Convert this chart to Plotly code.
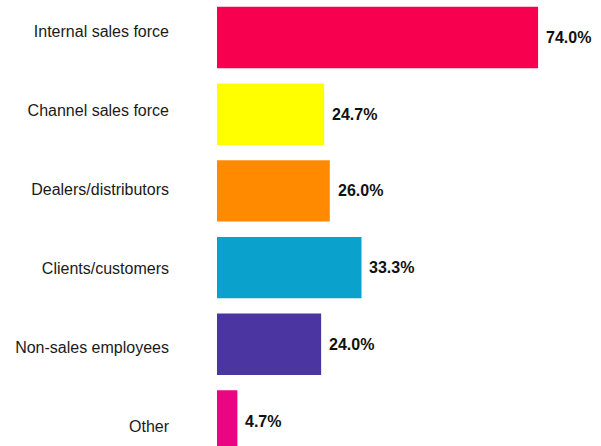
import plotly.graph_objects as go

# Survey responses: share of respondents per source
categories = [
    "Internal sales force",
    "Channel sales force",
    "Dealers/distributors",
    "Clients/customers",
    "Non-sales employees",
    "Other",
]
values = [74.0, 24.7, 26.0, 33.3, 24.0, 4.7]
bar_colors = ["#F7004F", "#FFFF00", "#FF8A00", "#0AA2CC", "#4B35A0", "#EA0583"]
value_labels = [f"{v:.1f}%" for v in values]

positions = list(range(len(categories)))

fig = go.Figure()

fig.add_trace(
    go.Bar(
        x=values,
        y=positions,
        orientation="h",
        marker=dict(color=bar_colors, line=dict(width=0)),
        width=0.8,
        hoverinfo="skip",
    )
)

# Invisible anchor trace so the category-label axis is laid out
fig.add_trace(
    go.Scatter(
        x=[0] * len(positions),
        y=positions,
        yaxis="y2",
        mode="markers",
        marker=dict(opacity=0),
        hoverinfo="skip",
        showlegend=False,
    )
)

# Value labels just past the end of each bar
for pos, val, label in zip(positions, values, value_labels):
    fig.add_annotation(
        x=val,
        y=pos,
        xref="x",
        yref="y",
        text=f"<b>{label}</b>",
        showarrow=False,
        xanchor="left",
        yanchor="middle",
        xshift=6,
        font=dict(family="Liberation Sans", size=16, color="#111111"),
    )

fig.update_layout(
    width=601,
    height=446,
    margin=dict(l=217, r=0, t=0, b=0),
    paper_bgcolor="white",
    plot_bgcolor="white",
    showlegend=False,
    xaxis=dict(
        range=[0, 88.5],
        showgrid=False,
        zeroline=False,
        showline=False,
        showticklabels=False,
        ticks="",
    ),
    yaxis=dict(
        range=[5.326, -0.489],
        showgrid=False,
        zeroline=False,
        showline=False,
        showticklabels=False,
        ticks="",
    ),
    # Category labels sit on their own, slightly wider-spaced scale
    yaxis2=dict(
        overlaying="y",
        side="left",
        range=[5.247, -0.399],
        tickmode="array",
        tickvals=positions,
        ticktext=categories,
        tickfont=dict(family="Liberation Sans", size=16, color="#1a1a1a"),
        ticklabelstandoff=47,
        showgrid=False,
        zeroline=False,
        showline=False,
        ticks="",
    ),
)

fig.write_html("out.html")
